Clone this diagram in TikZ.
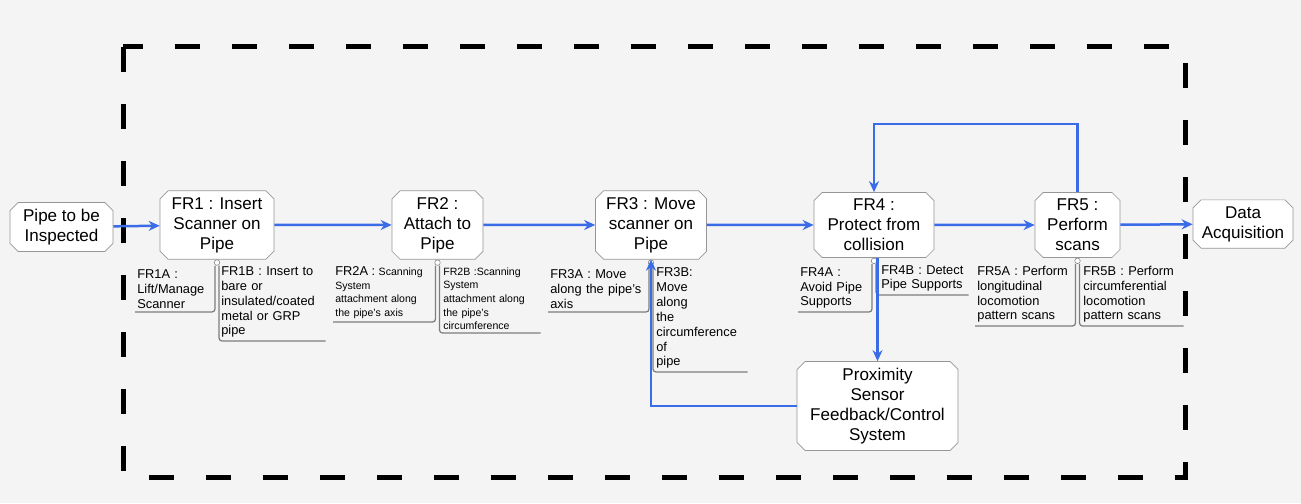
\documentclass[tikz,border=0pt]{standalone}
\usepackage{fontspec}
\setmainfont{Liberation Sans}
\usetikzlibrary{shapes.misc,arrows.meta}
\definecolor{bg}{RGB}{244,244,244}
\definecolor{flowblue}{RGB}{58,108,232}
\definecolor{boxgray}{RGB}{150,150,150}
\definecolor{branchgray}{RGB}{125,125,125}
\begin{document}
\begin{tikzpicture}[x = 0.2mm, y = -0.2mm,
	box/.style = {chamfered rectangle, chamfered rectangle xsep = 0.8mm, chamfered rectangle ysep = 0.8mm, draw = boxgray, fill = white, align = center, inner sep = 0.5mm, font = \fontsize{9.7}{11.4}\selectfont},
	flow/.style = {draw = flowblue, line width = 0.5mm, -{Stealth[length = 2.2mm, width = 2mm]}},
	knob/.style = {circle, draw = branchgray, fill = white, inner sep = 0pt, minimum size = 1.1mm, line width = 0.3pt},
	branch/.style = {draw = branchgray, line width = 0.25mm, rounded corners = 0.6mm},
	sub/.style = {anchor = south west, align = left, inner xsep = 0.4mm, inner ysep = 0.6mm, font = \fontsize{7.3}{8.5}\selectfont},
	tiny/.style = {sub, font = \fontsize{6}{7.7}\selectfont},
	frame/.style = {line width = 1mm, dash pattern = on 5mm off 6.4mm}]
	%background
	\fill[bg] (0,0) rectangle (1301,503);
	\draw[frame] (123,47) rectangle (1185,477);
	
	%boxes
	\node[box, minimum width = 20.6mm, minimum height = 9.4mm] (pipe) at (61.5,227) {Pipe to be\\Inspected};
	\node[box, minimum width = 22.8mm, minimum height = 12.8mm] (fr1) at (217,225) {FR1 : Insert\\Scanner on\\Pipe};
	\node[box, minimum width = 18.2mm, minimum height = 12.8mm] (fr2) at (437.5,225) {FR2 :\\Attach to\\Pipe};
	\node[box, minimum width = 22.2mm, minimum height = 12.8mm] (fr3) at (651,225) {FR3 : Move\\scanner on\\Pipe};
	\node[box, minimum width = 24mm, minimum height = 12.8mm] (fr4) at (874,225) {FR4 :\\Protect from\\collision};
	\node[box, minimum width = 17mm, minimum height = 12.8mm] (fr5) at (1077.5,225) {FR5 :\\Perform\\scans};
	\node[box, minimum width = 20mm, minimum height = 8.8mm] (data) at (1243,224) {Data\\Acquisition};
	\node[box, minimum width = 32.2mm, minimum height = 16.8mm] (prox) at (877.5,406) {Proximity\\Sensor\\Feedback/Control\\System};
	
	%sub-functions
	\node[sub, text width = 14.8mm] (fr1a) at (135,312) {FR1A :\\Lift/Manage\\Scanner};
	\node[sub, text width = 20.4mm] (fr1b) at (219,341) {FR1B : Insert to\\bare or\\insulated/coated\\metal or GRP\\pipe};
	\node[tiny, text width = 19.6mm] (fr2a) at (333,322) {{\fontsize{7.3}{7.7}\selectfont FR2A :} Scanning\\System\\attachment along\\the pipe's axis};
	\node[tiny, text width = 19mm] (fr2b) at (441,333) {FR2B :Scanning\\System\\attachment along\\the pipe's\\circumference};
	\node[sub, text width = 19.2mm] (fr3a) at (548,312) {FR3A : Move\\along the pipe's\\axis};
	\node[sub, text width = 17.8mm] (fr3b) at (654,372) {FR3B:\\Move\\along\\the\\circumference\\of\\pipe};
	\node[sub, text width = 14mm] (fr4a) at (798,312) {FR4A :\\Avoid Pipe\\Supports};
	\node[sub, text width = 17mm] (fr4b) at (879,295) {FR4B : Detect\\Pipe Supports};
	\node[sub, text width = 19.2mm] (fr5a) at (975,326) {FR5A : Perform\\longitudinal\\locomotion\\pattern scans};
	\node[sub, text width = 19.6mm] (fr5b) at (1081,326) {FR5B : Perform\\circumferential\\locomotion\\pattern scans};
	
	%branches
	\foreach \n in {fr1, fr2, fr3, fr4, fr5}{
		\node[knob, anchor = north] (k\n) at (\n.south) {};
		\draw[branch] ([xshift = -0.4mm]k\n.south) |- (\n a.south west);
		\draw[branch] ([xshift = 0.4mm]k\n.south) |- (\n b.south east);
	}
	
	%arrows
	\foreach \a/\b in {pipe/fr1, fr1/fr2, fr2/fr3, fr3/fr4, fr4/fr5, fr5/data}
	\draw[flow] (\a) -- (\b);
	\coordinate (fb) at (874,124);
	\draw[flow] (fr5.north) |- (fb) -- (fr4.north);
	\draw[flow] (prox.north |- fr4.south) -- (prox.north);
	\draw[flow] (prox.west) -| (fr3.south);
\end{tikzpicture}
\end{document}
